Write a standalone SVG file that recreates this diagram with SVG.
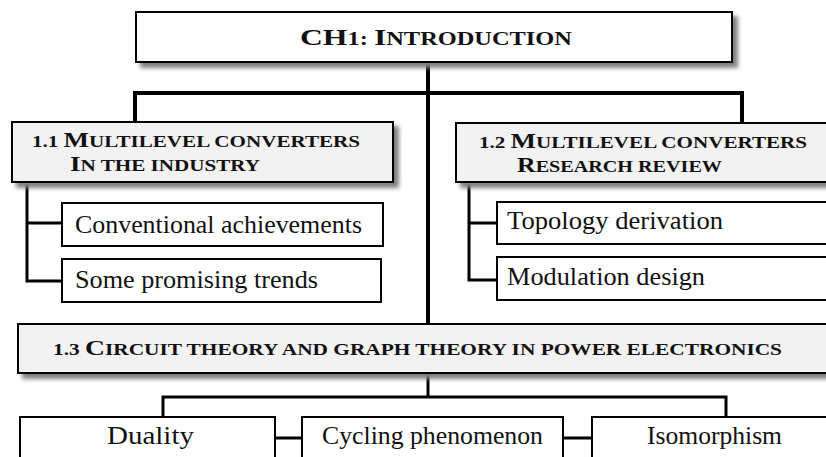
<svg xmlns="http://www.w3.org/2000/svg" width="826" height="457" viewBox="0 0 826 457">
<style>
.box{fill:#fff;stroke:#000;stroke-width:2}
.hd{fill:#f2f2f2;stroke:#000;stroke-width:2}
.con{fill:none;stroke:#000;stroke-linejoin:miter;stroke-linecap:butt}
.t{font-family:"Liberation Serif","Times New Roman",serif;fill:#111}
.b{font-weight:bold}
.sc{font-size:16px}
</style>
<defs>
<filter id="sh" x="-5%" y="-30%" width="115%" height="180%">
<feDropShadow dx="5" dy="5" stdDeviation="2" flood-color="#808080" flood-opacity="1"/>
</filter>
</defs>
<rect x="0" y="0" width="826" height="457" fill="#fff"/>
<g id="connectors">
<path class="con" stroke-width="4" d="M428,62 V323"/>
<path class="con" stroke-width="4" d="M135,122 V93 H742 V123"/>
<path class="con" stroke-width="3" d="M27,182 V281 H62 M27,223 H62"/>
<path class="con" stroke-width="3" d="M469,182 V280 H497 M469,223 H497"/>
<path class="con" stroke-width="3" d="M428,373 V397 M163,417 V397 H726 V417"/>
<path class="con" stroke-width="3" d="M275,438 H302 M563,438 H592"/>
</g>
<g id="ch1">
<rect class="box" x="136" y="12" width="596" height="50" filter="url(#sh)"/>
<text class="t b" x="300" y="45" font-size="24" textLength="272" lengthAdjust="spacingAndGlyphs">CH<tspan font-size="18.5">1: </tspan>I<tspan font-size="18.5">NTRODUCTION</tspan></text>
</g>
<g id="s11">
<rect class="hd" x="12" y="122" width="381" height="60" filter="url(#sh)"/>
<text class="t b" x="32" y="147" font-size="20.5" textLength="328" lengthAdjust="spacingAndGlyphs"><tspan class="sc">1.1 </tspan>M<tspan class="sc">ULTILEVEL CONVERTERS</tspan></text>
<text class="t b" x="70" y="171" font-size="20.5" textLength="190" lengthAdjust="spacingAndGlyphs">I<tspan class="sc">N THE INDUSTRY</tspan></text>
</g>
<g id="s12">
<rect class="hd" x="456" y="123" width="380" height="59" filter="url(#sh)"/>
<text class="t b" x="479" y="148" font-size="20.5" textLength="328" lengthAdjust="spacingAndGlyphs"><tspan class="sc">1.2 </tspan>M<tspan class="sc">ULTILEVEL CONVERTERS</tspan></text>
<text class="t b" x="517" y="172" font-size="20.5" textLength="205" lengthAdjust="spacingAndGlyphs">R<tspan class="sc">ESEARCH REVIEW</tspan></text>
</g>
<g id="conv">
<rect class="box" x="62" y="203" width="321" height="43"/>
<text class="t" x="75" y="233" font-size="25" textLength="287" lengthAdjust="spacingAndGlyphs">Conventional achievements</text>
</g>
<g id="trends">
<rect class="box" x="62" y="259" width="319" height="43"/>
<text class="t" x="75" y="288" font-size="25" textLength="243" lengthAdjust="spacingAndGlyphs">Some promising trends</text>
</g>
<g id="topo">
<rect class="box" x="497" y="202" width="340" height="42"/>
<text class="t" x="507" y="229" font-size="25" textLength="216" lengthAdjust="spacingAndGlyphs">Topology derivation</text>
</g>
<g id="modu">
<rect class="box" x="497" y="257" width="340" height="43"/>
<text class="t" x="507" y="285" font-size="25" textLength="198" lengthAdjust="spacingAndGlyphs">Modulation design</text>
</g>
<g id="s13">
<rect class="hd" x="18" y="324" width="818" height="49" filter="url(#sh)"/>
<text class="t b" x="53" y="355" font-size="22" textLength="729" lengthAdjust="spacingAndGlyphs"><tspan font-size="17">1.3 </tspan>C<tspan font-size="17">IRCUIT THEORY AND GRAPH THEORY IN POWER ELECTRONICS</tspan></text>
</g>
<g id="duality">
<rect class="box" x="20" y="417" width="255" height="50"/>
<text class="t" x="107" y="444" font-size="25" textLength="87" lengthAdjust="spacingAndGlyphs">Duality</text>
</g>
<g id="cycling">
<rect class="box" x="302" y="417" width="261" height="50"/>
<text class="t" x="322" y="444" font-size="25" textLength="221" lengthAdjust="spacingAndGlyphs">Cycling phenomenon</text>
</g>
<g id="iso">
<rect class="box" x="592" y="417" width="250" height="50"/>
<text class="t" x="647" y="444" font-size="25" textLength="135" lengthAdjust="spacingAndGlyphs">Isomorphism</text>
</g>
</svg>
